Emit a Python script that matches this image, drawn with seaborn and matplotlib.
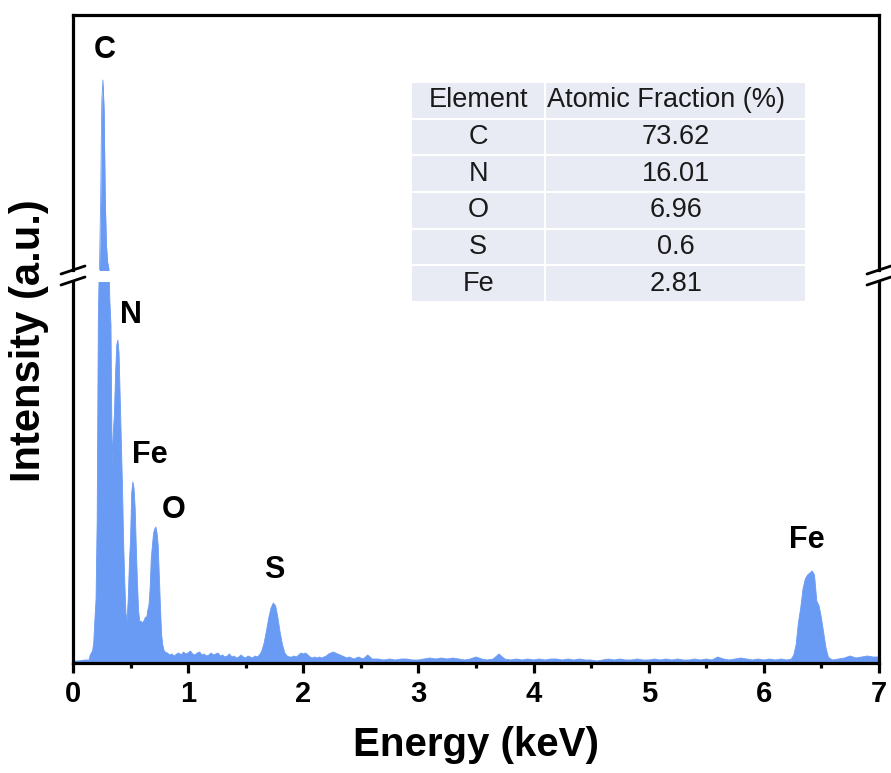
import numpy as np
import matplotlib
matplotlib.use("Agg")
import matplotlib.pyplot as plt
import seaborn as sns
from matplotlib.lines import Line2D
from matplotlib.ticker import MultipleLocator

# EDS spectrum (arbitrary counts), split into energy windows
e_low = [0.00, 0.05, 0.10, 0.14, 0.15, 0.16, 0.17, 0.18, 0.19, 0.20,
         0.21, 0.22, 0.23, 0.24, 0.25, 0.26, 0.27, 0.28, 0.29, 0.30,
         0.31, 0.32, 0.33, 0.34, 0.35, 0.36, 0.37, 0.38, 0.39, 0.40,
         0.41, 0.42, 0.43, 0.44, 0.45, 0.46, 0.47, 0.48, 0.49, 0.50,
         0.51, 0.52, 0.53, 0.54, 0.55, 0.56, 0.57, 0.58, 0.59, 0.60,
         0.61, 0.62, 0.63, 0.64, 0.65, 0.66, 0.67, 0.68, 0.69, 0.70,
         0.71, 0.72, 0.73, 0.74, 0.75, 0.76, 0.77, 0.78, 0.79, 0.80]
c_low = [20, 20, 30, 30, 80, 100, 120, 200, 430, 630,
         1430, 3430, 4100, 7290, 12000, 12940, 11530, 7290, 5180, 4380,
         4100, 3630, 3380, 2000, 2300, 2500, 2900, 3180, 3230, 3100,
         2650, 2200, 1760, 1200, 800, 500, 420, 650, 1000, 1250,
         1700, 1810, 1750, 1550, 1150, 800, 520, 410, 420, 400,
         410, 430, 460, 450, 530, 580, 750, 1050, 1180, 1300,
         1340, 1360, 1300, 1180, 850, 550, 280, 180, 130, 110]

e_mid = [0.82, 0.84, 0.86, 0.88, 0.90, 0.92, 0.94, 0.96, 0.98, 1.00,
         1.02, 1.04, 1.06, 1.08, 1.10, 1.12, 1.14, 1.16, 1.18, 1.20,
         1.22, 1.24, 1.26, 1.28, 1.30, 1.32, 1.34, 1.36, 1.38, 1.40,
         1.42, 1.44, 1.46, 1.48, 1.50, 1.52, 1.54, 1.56, 1.58, 1.60,
         1.62]
c_mid = [100, 80, 90, 70, 90, 100, 80, 110, 90, 100,
         120, 90, 80, 100, 110, 80, 90, 70, 80, 100,
         80, 90, 100, 70, 80, 60, 70, 90, 60, 70,
         50, 60, 80, 60, 50, 70, 60, 50, 70, 60,
         80]

e_s = [1.64, 1.66, 1.68, 1.70, 1.72, 1.74, 1.76, 1.78, 1.80, 1.82,
       1.84, 1.86, 1.88]
c_s = [120, 200, 320, 450, 550, 600, 570, 450, 300, 180,
       100, 70, 60]

e_tail = [1.90, 1.92, 1.94, 1.96, 1.98, 2.00, 2.02, 2.04, 2.06, 2.08,
          2.10, 2.12, 2.14, 2.16, 2.18, 2.20, 2.22, 2.24, 2.26, 2.28,
          2.30, 2.32, 2.34, 2.36, 2.38, 2.40, 2.42, 2.44, 2.46, 2.48,
          2.50, 2.52, 2.54, 2.56, 2.58, 2.60]
c_tail = [60, 70, 60, 80, 100, 90, 100, 80, 60, 50,
          60, 50, 60, 50, 60, 70, 90, 100, 110, 100,
          90, 80, 70, 60, 50, 60, 50, 40, 50, 60,
          50, 40, 60, 80, 60, 40]

e_flat = [2.65, 2.70, 2.75, 2.80, 2.85, 2.90, 2.95, 3.00, 3.05, 3.10,
          3.15, 3.20, 3.25, 3.30, 3.35, 3.40, 3.45, 3.50, 3.55, 3.60,
          3.65, 3.70, 3.75, 3.80, 3.85, 3.90, 3.95, 4.00, 4.05, 4.10,
          4.15, 4.20, 4.25, 4.30, 4.35, 4.40, 4.45, 4.50, 4.55, 4.60,
          4.65, 4.70, 4.75, 4.80, 4.85, 4.90, 4.95, 5.00, 5.05, 5.10,
          5.15, 5.20, 5.25, 5.30, 5.35, 5.40, 5.45, 5.50, 5.55, 5.60,
          5.65, 5.70, 5.75, 5.80, 5.85, 5.90, 5.95, 6.00, 6.05, 6.10,
          6.15, 6.20]
c_flat = [40, 30, 40, 30, 40, 40, 30, 30, 40, 50,
          40, 50, 40, 50, 40, 30, 40, 60, 40, 30,
          40, 90, 40, 30, 40, 30, 40, 30, 40, 30,
          40, 40, 30, 40, 30, 40, 30, 30, 20, 30,
          40, 30, 40, 30, 30, 40, 30, 30, 40, 30,
          40, 30, 40, 30, 30, 40, 30, 40, 30, 60,
          40, 30, 40, 50, 40, 30, 40, 30, 40, 30,
          40, 30]

e_fe = [6.24, 6.26, 6.28, 6.30, 6.32, 6.34, 6.36, 6.38, 6.40, 6.42,
        6.44, 6.46, 6.48, 6.50, 6.52, 6.54, 6.56, 6.58, 6.60]
c_fe = [40, 80, 180, 400, 550, 740, 840, 880, 900, 920,
        880, 620, 570, 450, 300, 150, 60, 40, 30]

e_end = [6.65, 6.70, 6.75, 6.80, 6.85, 6.90, 6.95, 7.00]
c_end = [40, 50, 70, 50, 60, 70, 60, 60]

# inset table
elements = ["C", "N", "O", "S", "Fe"]
atomic_fraction = ["73.62", "16.01", "6.96", "0.6", "2.81"]
table_header = ["Element", "Atomic Fraction (%)"]

# peak annotations (text, energy, height)
peak_text = ["C", "N", "Fe", "O", "S", "Fe"]
peak_text_e = [0.28, 0.50, 0.67, 0.87, 1.75, 6.37]
peak_text_y = [14350, 3480, 2080, 1530, 930, 1230]

energy = np.array(e_low + e_mid + e_s + e_tail + e_flat + e_fe + e_end)
counts = np.array(c_low + c_mid + c_s + c_tail + c_flat + c_fe + c_end)

sns.set_theme(style="ticks")
plt.rcParams["font.family"] = ["Liberation Sans", "DejaVu Sans"]
plt.rcParams["text.color"] = "black"
plt.rcParams["axes.labelcolor"] = "black"
plt.rcParams["xtick.color"] = "black"

blue = "#6a9bf4"
W, H = 891, 773
fig = plt.figure(figsize=(W / 100, H / 100), dpi=100)


def fx(px):
    return px / W


def fy(py):
    return 1 - py / H


ax_top = fig.add_axes([fx(73), fy(270), fx(879) - fx(73), fy(15) - fy(270)])
ax_bot = fig.add_axes([fx(73), fy(663), fx(879) - fx(73), fy(282) - fy(663)])

for ax in (ax_top, ax_bot):
    sns.lineplot(x=energy, y=counts, ax=ax, color=blue, lw=0.6)
    ax.fill_between(energy, 0, counts, color=blue, lw=0)
    ax.set_xlim(0, 7)
    ax.set_yticks([])
    ax.set_ylabel("")
    for sp in ax.spines.values():
        sp.set_linewidth(2.3)
        sp.set_color("black")

ax_top.set_ylim(4000, 16000)
ax_bot.set_ylim(0, 3810)
ax_top.spines["bottom"].set_visible(False)
ax_bot.spines["top"].set_visible(False)
ax_top.tick_params(axis="x", bottom=False, labelbottom=False)
ax_top.set_xlabel("")

ax_bot.xaxis.set_major_locator(MultipleLocator(1))
ax_bot.xaxis.set_minor_locator(MultipleLocator(0.5))
ax_bot.tick_params(axis="x", which="major", direction="out", length=7, width=2.3,
                   pad=5, labelsize=21, labelcolor="black")
ax_bot.tick_params(axis="x", which="minor", direction="out", length=3.5, width=2.3)
for lab in ax_bot.get_xticklabels():
    lab.set_fontweight("bold")
ax_bot.set_xlabel("Energy (keV)", fontsize=29, fontweight="bold", labelpad=13,
                  color="black")

fig.text(fx(29), fy(341), "Intensity (a.u.)", rotation=90, fontsize=30,
         fontweight="bold", ha="center", va="center", color="black")

# axis break marks
for xp in (73, 879):
    for yp in (270, 281):
        fig.add_artist(Line2D([fx(xp - 12), fx(xp + 12)], [fy(yp + 4), fy(yp - 4)],
                              color="black", lw=2.0))

# peak labels
for txt, xe, yv in zip(peak_text, peak_text_e, peak_text_y):
    target = ax_top if yv > 4000 else ax_bot
    target.text(xe, yv, txt, fontsize=22, fontweight="bold", ha="center", va="center")

# composition table
ax_tab = fig.add_axes([fx(411), fy(302), fx(806) - fx(411), fy(82) - fy(302)])
ax_tab.axis("off")
rows = [[e, f] for e, f in zip(elements, atomic_fraction)]
tbl = ax_tab.table(cellText=rows, colLabels=table_header, cellLoc="center",
                   bbox=[0, 0, 1, 1], colWidths=[0.34, 0.66])
tbl.auto_set_font_size(False)
tbl.set_fontsize(19.5)
for cell in tbl.get_celld().values():
    cell.set_facecolor("#e8eaf4")
    cell.set_edgecolor("white")
    cell.set_linewidth(1.5)
    cell.get_text().set_color("#1a1a1a")
hdr = tbl[0, 1]
hdr._loc = "left"
hdr.PAD = 0.005
hdr.get_text().set_horizontalalignment("left")

fig.savefig("out.png", dpi=100)
